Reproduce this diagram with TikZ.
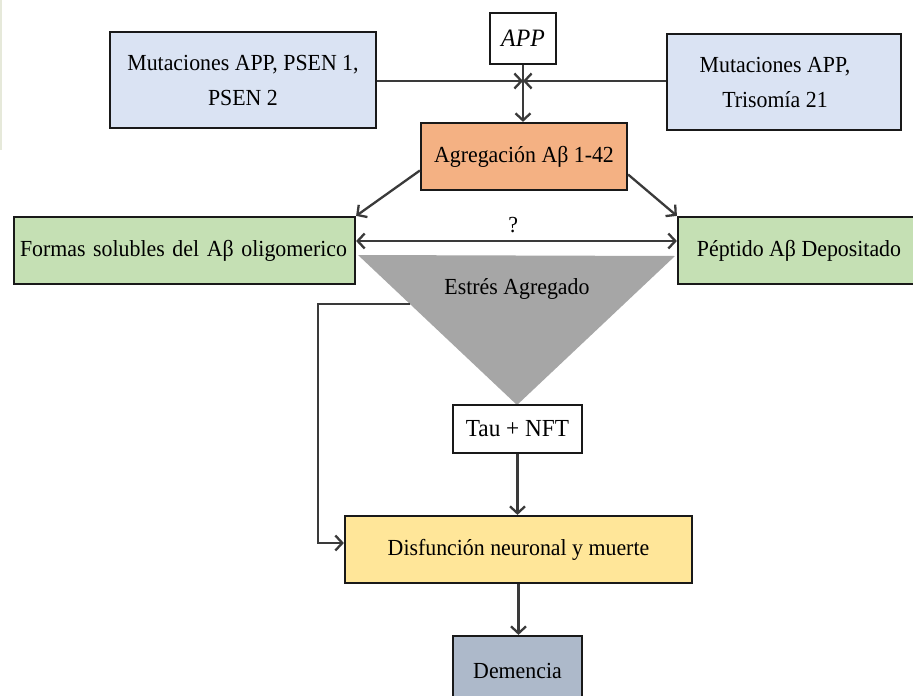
\documentclass[tikz,border=0pt]{standalone}
\usepackage{fontspec}
\setmainfont{Liberation Serif}[FakeStretch=0.95]
\usetikzlibrary{arrows.meta}
\definecolor{cBlue}{HTML}{DAE3F3}
\definecolor{cOrange}{HTML}{F4B183}
\definecolor{cGreen}{HTML}{C5E0B4}
\definecolor{cYellow}{HTML}{FFE699}
\definecolor{cSlate}{HTML}{ADB9CA}
\definecolor{cTri}{HTML}{A6A6A6}
\definecolor{cLine}{HTML}{3A3A3A}
\definecolor{cEdge}{HTML}{E6E9DA}
\begin{document}
\begin{tikzpicture}[x=1pt,y=-1pt,
  box/.style={draw=black!90, line width=2.2pt, inner sep=0pt, align=center, font=\fontsize{23}{35}\selectfont},
  conn/.style={draw=cLine, line width=2.3pt},
  arr/.style={conn, -{Straight Barb[length=7pt,width=15pt]}},
  darr/.style={conn, {Straight Barb[length=7pt,width=15pt]}-{Straight Barb[length=7pt,width=15pt]}},
  lbl/.style={inner sep=0pt, font=\fontsize{23}{35}\selectfont}]
\useasboundingbox (0,0) rectangle (913,696);
\clip (0,0) rectangle (913,696);
\fill[white] (0,0) rectangle (913,696);
\fill[cEdge] (0,0) rectangle (2,150);

% triangle and feedback
\coordinate (fb) at (410,304);
\coordinate (fbc) at (318,543);
\fill[cTri] (358,255) -- (675,256) -- (517,405) -- cycle;
\node[lbl] (est) at (517,289) {Estrés Agregado};

% nodes
\node[box, fill=cBlue, minimum width=266pt, minimum height=96pt] (mut1) at (243,80) {Mutaciones APP, PSEN 1,\\PSEN 2};
\node[box, fill=white, minimum width=66pt, minimum height=51pt, font=\fontsize{25}{30}\selectfont\itshape] (app) at (523,38.5) {APP};
\node[box, fill=cBlue, minimum width=234pt, minimum height=96pt] (mut2) at (784,82) {\hspace*{-18pt}Mutaciones APP,\\\hspace*{-18pt}Trisomía 21};
\node[box, fill=cOrange, minimum width=206pt, minimum height=67pt] (agg) at (524,156.5) {Agregación Aβ 1-42};
\node[box, fill=cGreen, minimum width=341pt, minimum height=67pt, text width=329pt, align=left] (sol) at (184.5,250.5) {Formas solubles del Aβ oligomerico};
\node[box, fill=cGreen, minimum width=242pt, minimum height=67pt] (pep) at (799,250.5) {Péptido Aβ Depositado};
\node[box, fill=white, minimum width=129pt, minimum height=48pt, font=\fontsize{24.5}{30}\selectfont] (tau) at (517.5,429) {Tau + NFT};
\node[box, fill=cYellow, minimum width=347pt, minimum height=67pt] (dis) at (518.5,549.5) {Disfunción neuronal y muerte};
\node[box, fill=cSlate, minimum width=129pt, minimum height=80pt] (dem) at (517.5,676) {\raisebox{11pt}{Demencia}};

% connectors
\coordinate (jn) at (523,81);
\draw[arr] (mut1.east |- jn) -- (jn);
\draw[arr] (mut2.west |- jn) -- (jn);
\draw[arr] (app.south) -- (app.south |- agg.north);
\draw[arr] ([yshift=-14pt]agg.west) -- (sol.north east);
\draw[arr] ([yshift=-18pt]agg.east) -- (pep.north west);
\draw[darr] ([yshift=9.5pt]sol.east) -- ([yshift=9.5pt]pep.west) node[pos=0.49, above=7pt, lbl] (q) {?};
\draw[arr] (fb) -| (fbc) -- (fbc -| dis.west);
\draw[arr] (tau.south) -- (tau.south |- dis.north);
\draw[arr] (dis.south) -- (dis.south |- dem.north);
\end{tikzpicture}
\end{document}
